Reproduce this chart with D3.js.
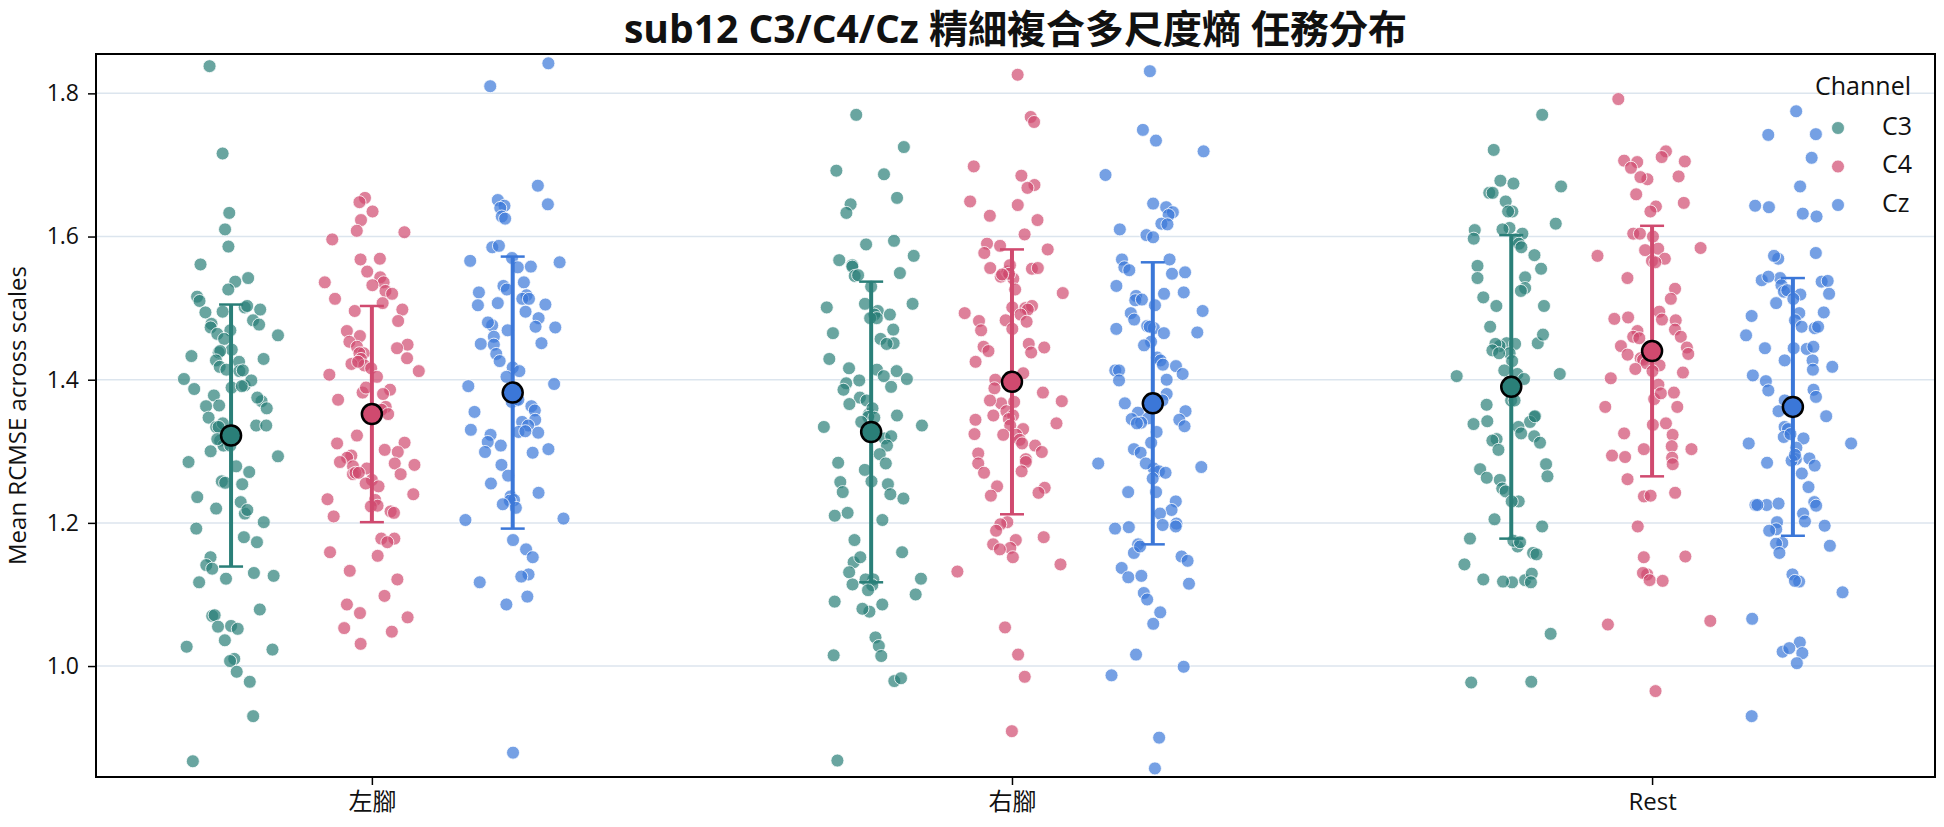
<!DOCTYPE html>
<html lang="zh-Hant">
<head>
<meta charset="UTF-8">
<title>sub12 RCMSE</title>
<script src="https://d3js.org/d3.v7.min.js"></script>
<style>
  body { margin: 0; background: #fff; }
  text { font-family: "Open Sans", "Noto Sans CJK TC", sans-serif; fill: #111; }
</style>
</head>
<body>
<div class="canvas"></div>
<script>
// categories / hues
const tasks = ['左腳', '右腳', 'Rest'];
const channels = ['C3', 'C4', 'Cz'];
const yTicks = [1.0, 1.2, 1.4, 1.6, 1.8];

// mean RCMSE per trial
const leftC3 = [1.838,1.716,1.633,1.610,1.586,1.561,1.542,1.537,1.526,1.516,1.501,1.510,1.503,1.498,1.495,1.494,1.483,1.478,1.477,1.473,1.464,1.469,1.462,1.457,1.438,1.442,1.440,1.427,1.429,1.433,1.425,1.418,1.414,1.412,1.413,1.401,1.389,1.392,1.399,1.387,1.391,1.378,1.370,1.375,1.363,1.364,1.360,1.347,1.336,1.334,1.339,1.334,1.336,1.315,1.308,1.300,1.317,1.308,1.293,1.285,1.279,1.271,1.254,1.258,1.256,1.236,1.213,1.229,1.218,1.220,1.201,1.192,1.180,1.173,1.152,1.141,1.130,1.122,1.126,1.136,1.117,1.070,1.079,1.071,1.055,1.056,1.052,1.036,1.023,1.027,1.010,1.007,0.992,0.978,0.930,0.867];
const leftC4 = [1.654,1.648,1.635,1.623,1.608,1.606,1.596,1.569,1.568,1.551,1.543,1.536,1.536,1.532,1.524,1.520,1.513,1.507,1.496,1.498,1.482,1.468,1.461,1.449,1.453,1.444,1.446,1.437,1.437,1.430,1.429,1.420,1.422,1.425,1.416,1.412,1.407,1.404,1.386,1.380,1.382,1.389,1.372,1.362,1.358,1.352,1.322,1.312,1.311,1.302,1.299,1.294,1.291,1.283,1.276,1.281,1.279,1.285,1.268,1.268,1.270,1.270,1.260,1.251,1.255,1.240,1.233,1.232,1.223,1.224,1.216,1.214,1.209,1.178,1.178,1.173,1.159,1.154,1.133,1.121,1.098,1.086,1.074,1.068,1.053,1.048,1.031];
const leftCz = [1.842,1.810,1.671,1.651,1.643,1.640,1.645,1.628,1.625,1.585,1.587,1.570,1.564,1.566,1.557,1.558,1.536,1.531,1.526,1.522,1.518,1.513,1.513,1.507,1.505,1.504,1.495,1.486,1.476,1.480,1.474,1.469,1.473,1.460,1.450,1.449,1.451,1.436,1.426,1.417,1.412,1.404,1.394,1.391,1.371,1.369,1.372,1.363,1.357,1.355,1.341,1.344,1.336,1.330,1.327,1.323,1.326,1.328,1.313,1.308,1.303,1.299,1.298,1.281,1.266,1.255,1.242,1.237,1.232,1.231,1.226,1.221,1.206,1.204,1.176,1.163,1.152,1.128,1.125,1.117,1.097,1.086,0.879];
const rightC3 = [1.770,1.725,1.692,1.687,1.654,1.645,1.633,1.594,1.589,1.573,1.560,1.567,1.558,1.549,1.545,1.546,1.530,1.496,1.506,1.506,1.501,1.491,1.486,1.486,1.491,1.470,1.465,1.457,1.451,1.450,1.429,1.414,1.416,1.412,1.405,1.395,1.399,1.401,1.386,1.390,1.375,1.371,1.366,1.350,1.352,1.360,1.348,1.341,1.347,1.336,1.334,1.331,1.318,1.321,1.308,1.296,1.284,1.283,1.274,1.258,1.257,1.254,1.243,1.240,1.234,1.214,1.210,1.204,1.176,1.159,1.145,1.152,1.121,1.122,1.131,1.114,1.121,1.113,1.106,1.100,1.090,1.086,1.076,1.080,1.040,1.028,1.015,1.014,0.979,0.983,0.868];
const rightC4 = [1.826,1.767,1.760,1.698,1.685,1.672,1.668,1.649,1.644,1.629,1.623,1.603,1.590,1.587,1.582,1.577,1.555,1.544,1.551,1.556,1.556,1.560,1.541,1.548,1.547,1.526,1.521,1.493,1.501,1.500,1.503,1.498,1.491,1.482,1.481,1.483,1.471,1.469,1.450,1.446,1.438,1.445,1.440,1.425,1.409,1.400,1.382,1.388,1.367,1.369,1.370,1.371,1.350,1.356,1.350,1.345,1.339,1.344,1.331,1.336,1.323,1.323,1.316,1.324,1.311,1.308,1.299,1.297,1.289,1.283,1.285,1.272,1.270,1.251,1.249,1.238,1.242,1.201,1.198,1.189,1.180,1.176,1.165,1.170,1.163,1.152,1.142,1.132,1.054,1.016,0.985,0.909];
const rightCz = [1.831,1.749,1.734,1.719,1.686,1.646,1.641,1.634,1.630,1.618,1.610,1.617,1.602,1.599,1.568,1.568,1.557,1.548,1.550,1.553,1.531,1.520,1.517,1.522,1.511,1.512,1.504,1.496,1.493,1.484,1.475,1.472,1.474,1.466,1.471,1.465,1.453,1.448,1.431,1.427,1.413,1.421,1.419,1.408,1.413,1.400,1.399,1.380,1.371,1.367,1.354,1.356,1.345,1.344,1.346,1.340,1.339,1.335,1.327,1.312,1.303,1.298,1.276,1.278,1.283,1.283,1.272,1.270,1.262,1.243,1.243,1.230,1.218,1.213,1.194,1.199,1.192,1.197,1.195,1.170,1.158,1.153,1.167,1.147,1.137,1.124,1.126,1.115,1.102,1.093,1.075,1.059,1.016,0.999,0.987,0.900,0.857];
const restC3 = [1.770,1.721,1.678,1.674,1.670,1.661,1.661,1.649,1.635,1.635,1.618,1.609,1.604,1.612,1.610,1.596,1.590,1.597,1.585,1.574,1.555,1.559,1.543,1.542,1.528,1.524,1.515,1.503,1.503,1.474,1.451,1.451,1.447,1.450,1.463,1.450,1.437,1.441,1.437,1.426,1.408,1.405,1.413,1.408,1.401,1.371,1.371,1.365,1.348,1.341,1.334,1.342,1.349,1.338,1.325,1.321,1.317,1.315,1.312,1.302,1.282,1.275,1.263,1.260,1.265,1.248,1.244,1.230,1.230,1.205,1.195,1.178,1.167,1.175,1.173,1.158,1.156,1.142,1.117,1.120,1.129,1.121,1.117,1.118,1.045,0.978,0.977];
const restC4 = [1.792,1.719,1.711,1.706,1.704,1.705,1.696,1.684,1.680,1.683,1.659,1.647,1.642,1.635,1.604,1.604,1.600,1.584,1.573,1.581,1.583,1.569,1.566,1.564,1.542,1.527,1.513,1.495,1.487,1.483,1.485,1.484,1.470,1.468,1.460,1.460,1.458,1.445,1.447,1.435,1.430,1.436,1.428,1.423,1.420,1.412,1.415,1.410,1.402,1.393,1.373,1.381,1.382,1.362,1.362,1.337,1.339,1.323,1.325,1.307,1.303,1.303,1.291,1.294,1.292,1.282,1.261,1.242,1.237,1.238,1.195,1.153,1.152,1.128,1.130,1.120,1.119,1.063,1.058,0.965];
const restCz = [1.775,1.742,1.743,1.710,1.670,1.641,1.628,1.643,1.632,1.577,1.569,1.573,1.537,1.542,1.538,1.539,1.544,1.532,1.520,1.523,1.525,1.519,1.513,1.507,1.494,1.489,1.493,1.483,1.474,1.472,1.474,1.462,1.444,1.443,1.446,1.444,1.427,1.427,1.418,1.414,1.406,1.398,1.386,1.385,1.376,1.371,1.366,1.356,1.349,1.334,1.331,1.320,1.324,1.318,1.311,1.311,1.305,1.290,1.289,1.287,1.295,1.284,1.280,1.269,1.250,1.225,1.229,1.225,1.213,1.224,1.227,1.225,1.202,1.201,1.196,1.191,1.189,1.172,1.168,1.171,1.158,1.128,1.118,1.119,1.103,1.066,1.033,1.020,1.025,1.018,1.004,0.930];

// group mean and SD as drawn in the picture (same order as groups below)
const groupMeans = [1.322, 1.352, 1.382, 1.327, 1.397, 1.367, 1.390, 1.440, 1.362];
const groupSDs   = [0.183, 0.151, 0.190, 0.210, 0.185, 0.197, 0.212, 0.175, 0.180];

const groups = [
  { task: 0, ch: 0, values: leftC3 }, { task: 0, ch: 1, values: leftC4 }, { task: 0, ch: 2, values: leftCz },
  { task: 1, ch: 0, values: rightC3 }, { task: 1, ch: 1, values: rightC4 }, { task: 1, ch: 2, values: rightCz },
  { task: 2, ch: 0, values: restC3 }, { task: 2, ch: 1, values: restC4 }, { task: 2, ch: 2, values: restCz }
];

const colors = ['#2a7f78', '#d04a6f', '#3b77d8'];

const W = 1944, H = 827;
const mLeft = 96, mRight = 1935, mTop = 54, mBottom = 777;

const svg = d3.select('.canvas').append('svg')
  .attr('width', W).attr('height', H);

const x = d3.scaleLinear().domain([-0.431, 2.442]).range([mLeft, mRight]);
const y = d3.scaleLinear().domain([0.845, 1.855]).range([mBottom, mTop]);
const dodge = 0.22;
const jitterW = 0.072;

// grid
svg.append('g').selectAll('line')
  .data(yTicks).enter().append('line')
  .attr('x1', mLeft).attr('x2', mRight)
  .attr('y1', d => y(d)).attr('y2', d => y(d))
  .attr('stroke', '#dce5ee').attr('stroke-width', 1.5);

// bell-shaped horizontal spread from Halton sequences (deterministic)
function radInv(n, b) {
  let f = 1, r = 0;
  while (n > 0) { f /= b; r += f * (n % b); n = Math.floor(n / b); }
  return r;
}
const spread = (i, gi) => {
  const n = i + 1 + gi * 23;
  return radInv(n, 2) + radInv(n, 3) + radInv(n, 5) - 1.5;
};

const pts = svg.append('g');
groups.forEach((g, gi) => {
  const cx = g.task + (g.ch - 1) * dodge;
  pts.selectAll(null)
    .data(g.values).enter().append('circle')
    .attr('cx', (d, i) => x(cx + spread(i, gi) * jitterW))
    .attr('cy', d => y(d))
    .attr('r', 6.5)
    .attr('fill', colors[g.ch])
    .attr('fill-opacity', 0.7)
    .attr('stroke', '#fff')
    .attr('stroke-width', 0.8);
});

// mean ± SD
const stats = svg.append('g');
groups.forEach((g, gi) => {
  const cx = x(g.task + (g.ch - 1) * dodge);
  const m = groupMeans[gi], sd = groupSDs[gi];
  const c = colors[g.ch];
  stats.append('line').attr('x1', cx).attr('x2', cx)
    .attr('y1', y(m - sd)).attr('y2', y(m + sd))
    .attr('stroke', c).attr('stroke-width', 4);
  [m - sd, m + sd].forEach(v => {
    stats.append('line').attr('x1', cx - 12).attr('x2', cx + 12)
      .attr('y1', y(v)).attr('y2', y(v))
      .attr('stroke', c).attr('stroke-width', 2.5);
  });
  stats.append('circle').attr('cx', cx).attr('cy', y(m)).attr('r', 10)
    .attr('fill', c).attr('stroke', '#000').attr('stroke-width', 2.5);
});

// frame
svg.append('rect').attr('x', mLeft).attr('y', mTop)
  .attr('width', mRight - mLeft).attr('height', mBottom - mTop)
  .attr('fill', 'none').attr('stroke', '#000').attr('stroke-width', 2);

// y axis
const yAxis = svg.append('g').attr('transform', `translate(${mLeft},0)`)
  .call(d3.axisLeft(y).tickValues(yTicks).tickFormat(d3.format('.1f')).tickSize(8).tickPadding(9));
yAxis.select('.domain').remove();
yAxis.selectAll('line').attr('stroke', '#000').attr('stroke-width', 1.5);
yAxis.selectAll('text').attr('font-size', 23).style('font-family', '"Open Sans", sans-serif').attr('fill', '#222');

// x axis
const xAxis = svg.append('g').attr('transform', `translate(0,${mBottom})`)
  .call(d3.axisBottom(x).tickValues([0, 1, 2]).tickFormat(i => tasks[i]).tickSize(8).tickPadding(8));
xAxis.select('.domain').remove();
xAxis.selectAll('line').attr('stroke', '#000').attr('stroke-width', 1.5);
xAxis.selectAll('text').attr('font-size', 24).style('font-family', '"Open Sans", "Noto Sans CJK TC", sans-serif').attr('fill', '#222');

// labels
svg.append('text')
  .attr('transform', `translate(20,${(mTop + mBottom) / 2}) rotate(-90)`)
  .attr('text-anchor', 'middle').attr('dominant-baseline', 'middle')
  .attr('font-size', 24)
  .text('Mean RCMSE across scales');

svg.append('text')
  .attr('x', (mLeft + mRight) / 2).attr('y', 43)
  .attr('text-anchor', 'middle')
  .attr('font-size', 39).attr('font-weight', 'bold')
  .text('sub12 C3/C4/Cz 精細複合多尺度熵 任務分布');

// legend
const lg = svg.append('g');
lg.append('text').attr('x', 1911).attr('y', 88)
  .attr('text-anchor', 'end').attr('dominant-baseline', 'middle')
  .attr('font-size', 25).text('Channel');
channels.forEach((c, i) => {
  const ly = 128 + i * 38.5;
  lg.append('circle').attr('cx', 1838).attr('cy', ly).attr('r', 6.5)
    .attr('fill', colors[i]).attr('fill-opacity', 0.7)
    .attr('stroke', '#fff').attr('stroke-width', 0.8);
  lg.append('text').attr('x', 1882).attr('y', ly)
    .attr('dominant-baseline', 'middle').attr('font-size', 25).text(c);
});
</script>
</body>
</html>
